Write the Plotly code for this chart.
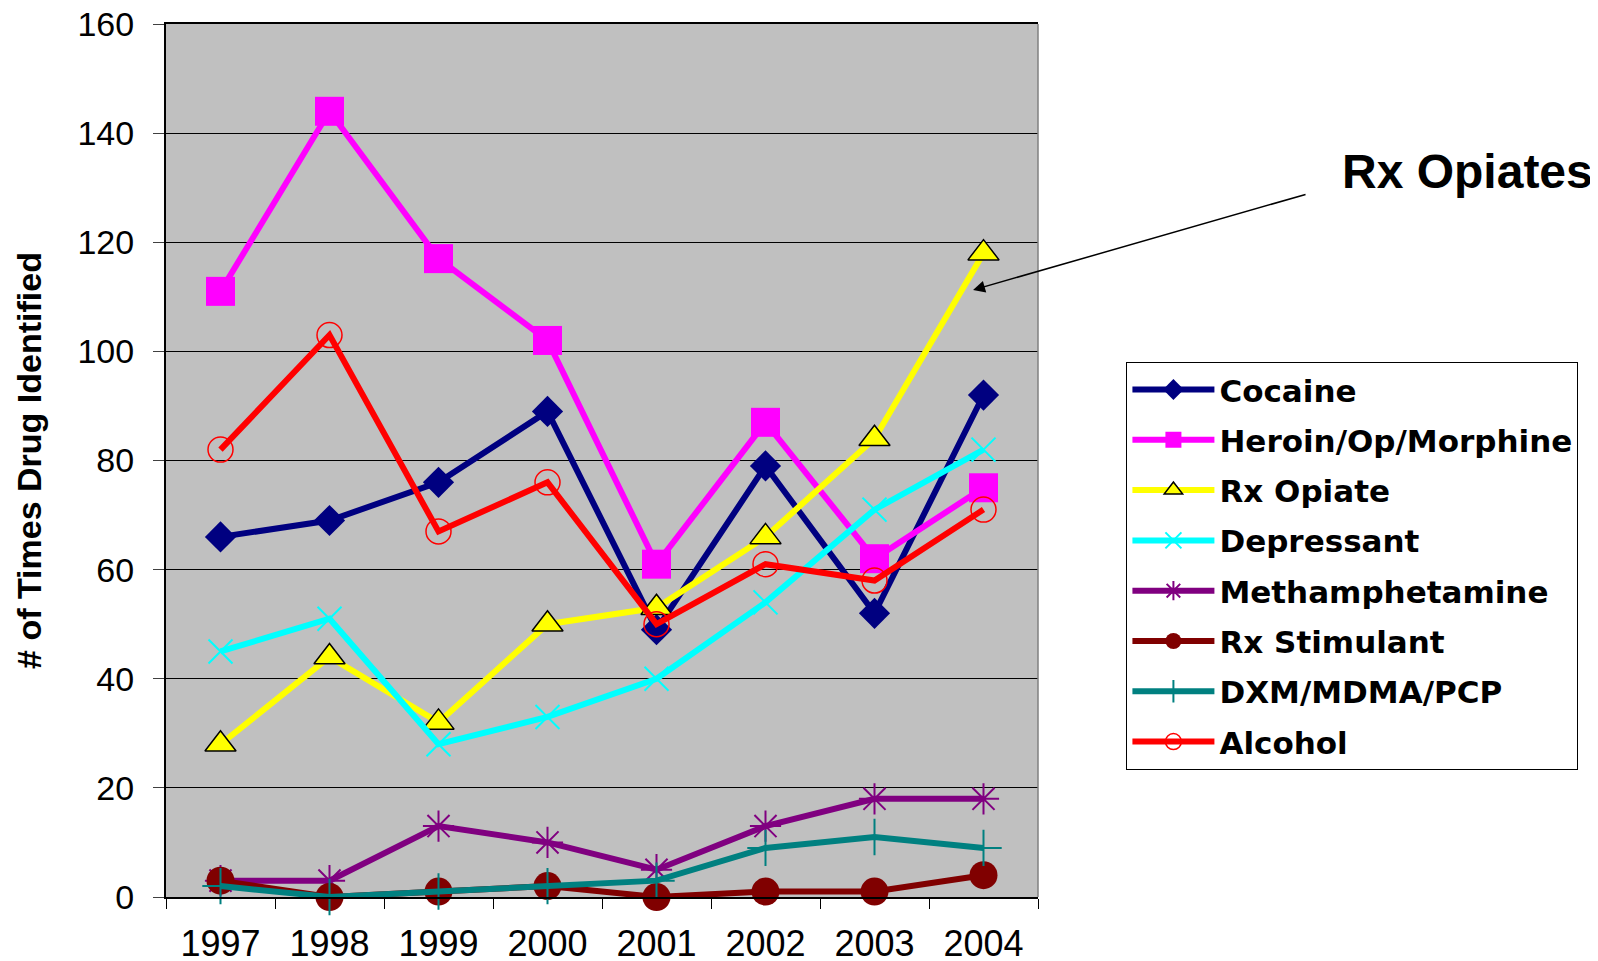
import plotly.graph_objects as go

years = ["1997", "1998", "1999", "2000", "2001", "2002", "2003", "2004"]

cocaine = [66, 69, 76, 89, 49, 79, 52, 92]
heroin = [111, 144, 117, 102, 61, 87, 62, 75]
rx_opiate = [28, 44, 32, 50, 53, 66, 84, 118]
depressant = [45, 51, 28, 33, 40, 54, 71, 82]
meth = [3, 3, 13, 10, 5, 13, 18, 18]
rx_stimulant = [3, 0, 1, 2, 0, 1, 1, 4]
dxm = [2, 0, 1, 2, 3, 9, 11, 9]
alcohol = [82, 103, 67, 76, 50, 61, 58, 71]

series = [
    ("Cocaine", cocaine, "#000080", dict(symbol="diamond", size=24, color="#000080")),
    ("Heroin/Op/Morphine", heroin, "#FF00FF", dict(symbol="square", size=29, color="#FF00FF")),
    ("Rx Opiate", rx_opiate, "#FFFF00", dict(symbol="triangle-up", size=27, color="#FFFF00",
                                              line=dict(color="black", width=1.5))),
    ("Depressant", depressant, "#00FFFF", dict(symbol="x-thin", size=24, color="#00FFFF",
                                               line=dict(color="#00FFFF", width=2))),
    ("Methamphetamine", meth, "#800080", dict(symbol="asterisk-open", size=26, color="#800080",
                                              line=dict(color="#800080", width=2))),
    ("Rx Stimulant", rx_stimulant, "#800000", dict(symbol="circle", size=28, color="#800000")),
    ("DXM/MDMA/PCP", dxm, "#008080", dict(symbol="cross-thin", size=26, color="#008080",
                                          line=dict(color="#008080", width=2))),
    ("Alcohol", alcohol, "#FF0000", dict(symbol="circle-open", size=25, color="#FF0000",
                                         line=dict(color="#FF0000", width=1.5))),
]

fig = go.Figure()
for i, (name, vals, col, mk) in enumerate(series):
    fig.add_trace(go.Scatter(
        x=years, y=vals, name=name, mode="lines+markers",
        line=dict(color=col, width=6), marker=mk, legendgroup=f"g{i}",
        cliponaxis=False,
    ))

# the page body has an 8px default margin, so the figure is 8px smaller
fig.update_layout(
    width=1590, height=953,
    margin=dict(l=158, r=560, t=16, b=64, autoexpand=False),
    paper_bgcolor="white", plot_bgcolor="#C0C0C0",
    font=dict(family="Liberation Sans, Arial, sans-serif", color="black"),
    showlegend=True,
    legend=dict(
        x=1.1014, y=0.613, xanchor="left", yanchor="top",
        bgcolor="white", bordercolor="black", borderwidth=1,
        font=dict(family="DejaVu Sans, Verdana, sans-serif", size=31, color="black", weight="bold"),
        tracegroupgap=7, itemwidth=82, entrywidth=455, entrywidthmode="pixels",
    ),
)

fig.update_xaxes(
    type="category", categoryorder="array", categoryarray=years,
    range=[-0.5, 7.5], showgrid=False, zeroline=False,
    showline=True, linecolor="black", linewidth=1.5, mirror=True,
    ticks="outside", tickson="boundaries", ticklen=10, tickcolor="black", tickwidth=1,
    tickfont=dict(family="Liberation Sans, Arial, sans-serif", size=36, color="black"),
    ticklabelstandoff=14,
)
fig.update_yaxes(
    range=[0, 160], dtick=20, showgrid=True, gridcolor="black", gridwidth=1,
    zeroline=False, showline=True, linecolor="black", linewidth=2,
    ticks="outside", ticklen=11, tickcolor="#404040", tickwidth=1,
    tickfont=dict(family="Liberation Sans, Arial, sans-serif", size=34, color="black"),
    ticklabelstandoff=12, ticklabeloverflow="allow",
    title=dict(text="# of Times Drug Identified", standoff=26,
               font=dict(family="Liberation Sans, Arial, sans-serif", size=34, color="black", weight="bold")),
)

# right border of plot area (gray)
fig.add_shape(type="line", xref="paper", yref="paper", x0=1, x1=1, y0=0, y1=1,
              line=dict(color="#808080", width=1.5))

# callout
fig.add_annotation(
    xref="paper", yref="paper", x=0.9255, y=0.6953,
    ax=334, ay=-96, axref="pixel", ayref="pixel",
    text="", showarrow=True, arrowhead=2, arrowsize=1.6, arrowwidth=1.5, arrowcolor="black",
)
fig.add_annotation(
    xref="paper", yref="paper", x=1.4925, y=0.8316, xanchor="center", yanchor="middle",
    text="Rx Opiates", showarrow=False,
    font=dict(family="Liberation Sans, Arial, sans-serif", size=48, color="black", weight="bold"),
)

fig.write_html("out.html")
